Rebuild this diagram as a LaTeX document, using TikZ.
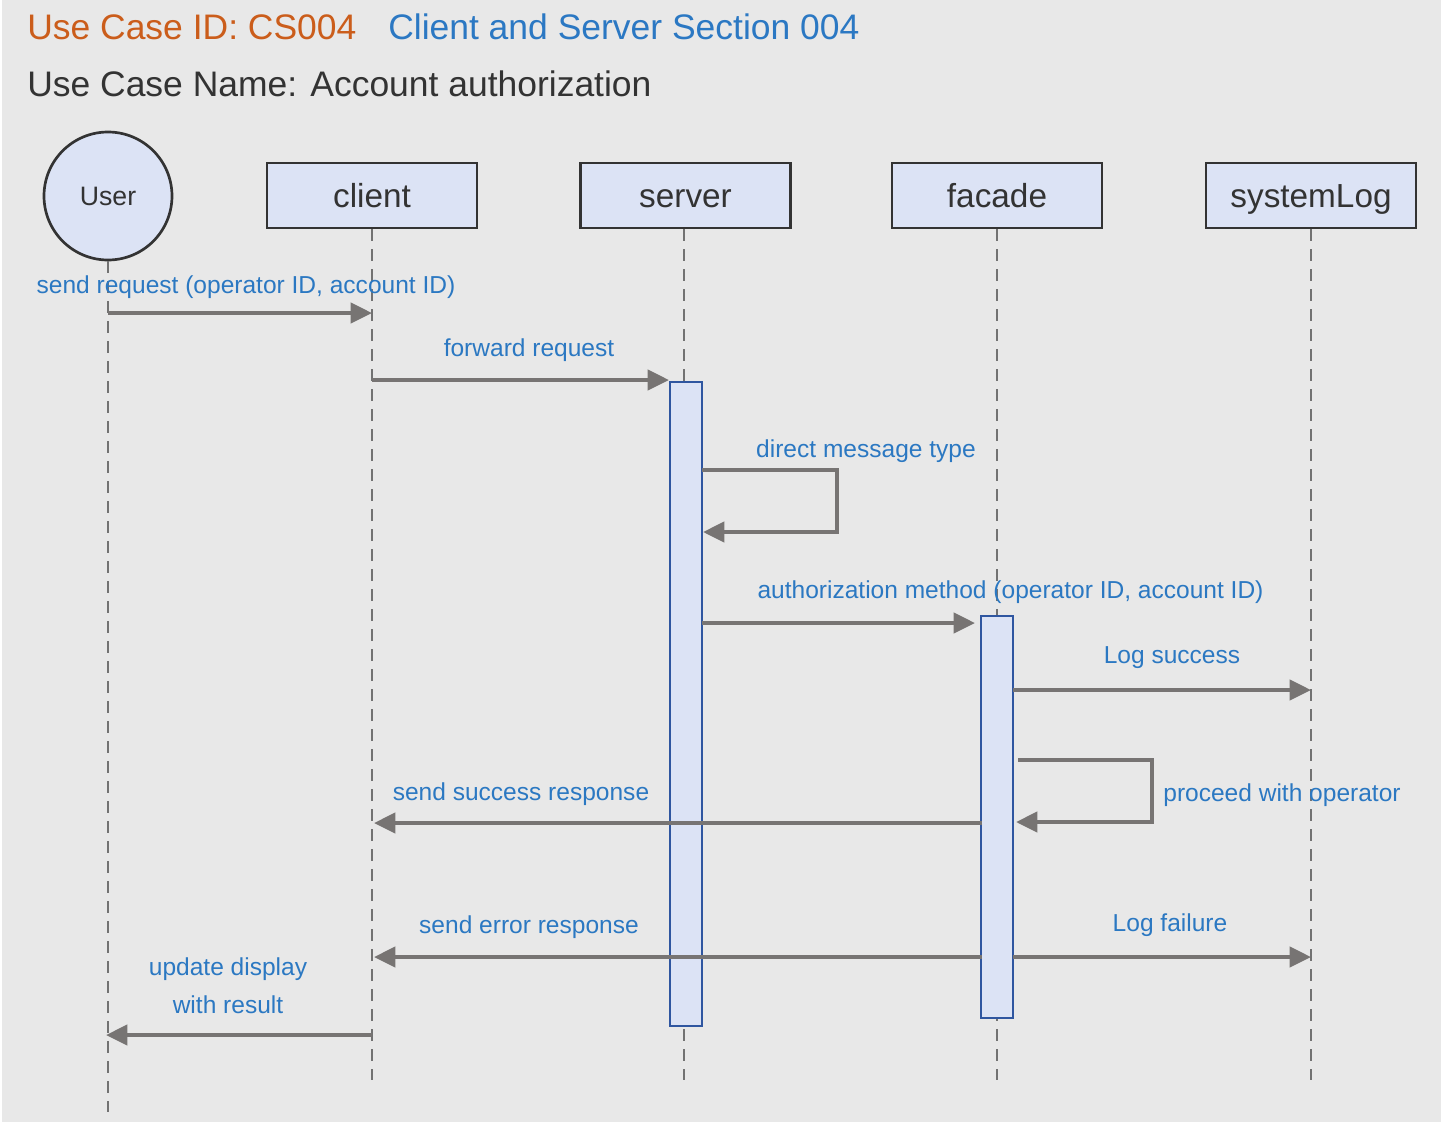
\documentclass[tikz,border=0pt]{standalone}
\usepackage{fontspec}
\setmainfont{Liberation Sans}
\usetikzlibrary{arrows.meta}
\definecolor{bggray}{HTML}{E8E8E8}
\definecolor{idorange}{HTML}{CB5D1B}
\definecolor{titleblue}{HTML}{2B78C3}
\definecolor{lblblue}{HTML}{2B78C2}
\definecolor{darktext}{HTML}{333333}
\definecolor{boxfill}{HTML}{DCE3F5}
\definecolor{actblue}{HTML}{2F56A0}
\definecolor{msggray}{HTML}{777473}
\definecolor{lifegray}{HTML}{727272}
\tikzset{
  titletext/.style={anchor=base west, inner sep=0, font=\fontsize{26.6}{30}\selectfont},
  pbox/.style={draw=darktext, line width=2pt, fill=boxfill, text=darktext,
    minimum width=157.5pt, minimum height=48.75pt, inner sep=0,
    text height=18pt, text depth=0pt,
    font=\fontsize{25}{28}\selectfont},
  pcircle/.style={circle, draw=darktext, line width=2pt, fill=boxfill, text=darktext,
    minimum size=96pt, inner sep=0, font=\fontsize{20}{24}\selectfont},
  lifeline/.style={draw=lifegray, line width=2.1pt, dash pattern=on 9pt off 6pt},
  actbar/.style={draw=actblue, line width=1.9pt, fill=boxfill, minimum width=24pt, inner sep=0},
  msg/.style={draw=msggray, line width=3.1pt, -{Triangle[length=16pt,width=15pt]}, color=msggray},
  lbl/.style={anchor=base, inner sep=0, text=lblblue, font=\fontsize{18.4}{22}\selectfont},
}
\begin{document}
\begin{tikzpicture}[x=0.75pt,y=-0.75pt]
\useasboundingbox (0,0) rectangle (1441,1125);
\fill[white] (0,0) rectangle (1441,1125);
\fill[bggray] (2,0) rectangle (1441,1122);

% titles
\node[titletext, text=idorange] (tid) at (27,39) {Use Case ID: CS004};
\node[titletext, text=titleblue] (tsec) at (388,39) {Client and Server Section 004};
\node[titletext, text=darktext] (tname) at (27,96) {Use Case Name: Account authorization};

% participants
\node[pcircle] (user) at (108,196) {User};
\node[pbox] (client) at (372,195.5) {client};
\node[pbox] (server) at (685.5,195.5) {server};
\node[pbox] (facade) at (997,195.5) {facade};
\node[pbox] (syslog) at (1311,195.5) {systemLog};

% lifeline ends
\coordinate (userend) at (108,1112);
\coordinate (clientend) at (372,1080);
\coordinate (serverend) at (684,1080);
\coordinate (facadeend) at (997,1080);
\coordinate (syslogend) at (1311,1080);

\draw[lifeline] (user.south) -- (userend);
\draw[lifeline] (client.south) -- (clientend);
\draw[lifeline] (server.south -| serverend) -- (serverend);
\draw[lifeline] (facade.south) -- (facadeend);
\draw[lifeline] (syslog.south) -- (syslogend);

% activation bars
\node[actbar, minimum height=483pt] (sbar) at (686,704) {};
\node[actbar, minimum height=301.5pt] (fbar) at (997,817) {};

% message points
\coordinate (u1) at (108,313);
\coordinate (c1) at (372,313);
\coordinate (c2) at (372,380);
\coordinate (s2) at (669,380);
\coordinate (s3a) at (702,470);
\coordinate (s3b) at (837,470);
\coordinate (s3c) at (837,532);
\coordinate (s3d) at (703,532);
\coordinate (s4) at (702,623);
\coordinate (f4) at (975,623);
\coordinate (f5) at (1013,690);
\coordinate (l5) at (1311,690);
\coordinate (f6a) at (1018,760);
\coordinate (f6b) at (1152,760);
\coordinate (f6c) at (1152,822);
\coordinate (f6d) at (1016,822);
\coordinate (f7) at (982,823);
\coordinate (c7) at (374,823);
\coordinate (f8) at (982,957);
\coordinate (c8) at (374,957);
\coordinate (f9) at (1013,957);
\coordinate (l9) at (1311,957);
\coordinate (c10) at (372,1035);
\coordinate (u10) at (106,1035);

% messages
\draw[msg] (u1) -- (c1);
\draw[msg] (c2) -- (s2);
\draw[msg] (s3a) -- (s3b) -- (s3c) -- (s3d);
\draw[msg] (s4) -- (f4);
\draw[msg] (f5) -- (l5);
\draw[msg] (f6a) -- (f6b) -- (f6c) -- (f6d);
\draw[msg] (f7) -- (c7);
\draw[msg] (f8) -- (c8);
\draw[msg] (f9) -- (l9);
\draw[msg] (c10) -- (u10);

% labels
\node[lbl] (m1) at (246,293) {send request (operator ID, account ID)};
\node[lbl] (m2) at (529,356) {forward request};
\node[lbl] (m3) at (866,457) {direct message type};
\node[lbl] (m4) at (1010.5,598) {authorization method (operator ID, account ID)};
\node[lbl] (m5) at (1172,663) {Log success};
\node[lbl] (m6) at (1282,801) {proceed with operator};
\node[lbl] (m7) at (521,800) {send success response};
\node[lbl] (m8) at (529,933) {send error response};
\node[lbl] (m9) at (1170,931) {Log failure};
\node[lbl] (m10a) at (228,975) {update display};
\node[lbl] (m10b) at (228,1013) {with result};
\end{tikzpicture}
\end{document}
